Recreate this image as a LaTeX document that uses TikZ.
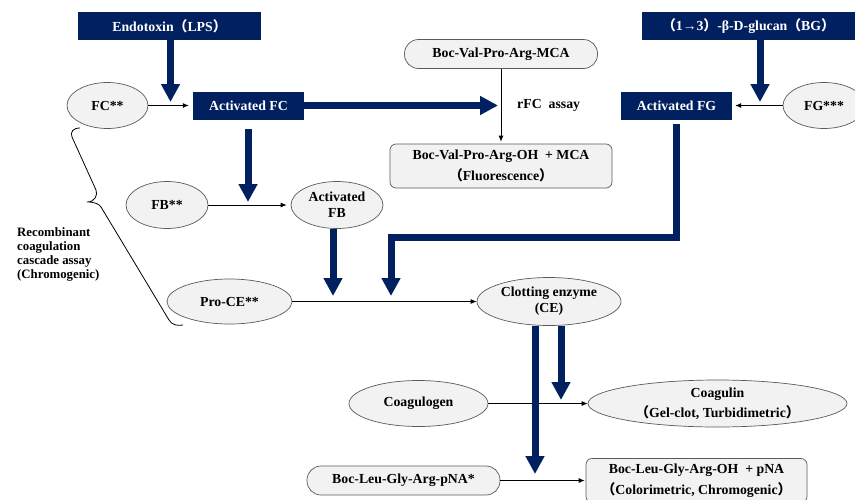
\documentclass[tikz,border=0pt]{standalone}
\usepackage{fontspec}
\setmainfont{Liberation Serif}
\newfontfamily\cjk{Noto Sans CJK SC}
\usetikzlibrary{shapes.geometric,arrows.meta}
\definecolor{navy}{RGB}{0,32,96}
\definecolor{nodeFill}{RGB}{242,242,242}
\definecolor{nodeDraw}{RGB}{90,90,90}
\newcommand{\fwl}{{\cjk （}}
\newcommand{\fwr}{{\cjk ）}}
\begin{document}
\begin{tikzpicture}
[x=1pt,y=-1pt,
  font=\fontsize{13.8}{16}\selectfont\bfseries,
  boxDecorate/.style={shape=rectangle,fill=navy,text=white,inner sep=0pt,minimum height=28pt},
  ellipseDecorate/.style={shape=ellipse,draw=nodeDraw,line width=0.7pt,fill=nodeFill,inner sep=0pt,align=center},
  pillDecorate/.style={shape=rectangle,draw=nodeDraw,line width=0.7pt,fill=nodeFill,inner sep=0pt,align=center,rounded corners=#1},
  pillDecorate/.default=14pt,
  lineDecorate/.style={-{Latex[length=6pt,width=5pt]},line width=0.8pt},
  thickDecorate/.style={-{Triangle[length=18pt,width=18pt]},line width=7pt,navy}]
\useasboundingbox (0,0) rectangle (855,499);
\clip (0,0) rectangle (855,499);
%% dark boxes
\foreach \nodename/\x/\y/\w/\txt in {
  lps/169.5/26/183/{Endotoxin\fwl LPS\fwr},
  bg/748.5/26/213/{\fwl 1→3\fwr-β-D-glucan\fwl BG\fwr},
  actFC/248.5/105.5/111/{Activated FC},
  actFG/676.5/105.5/111/{Activated FG}}
{
  \node (\nodename) at (\x,\y) [boxDecorate,minimum width=\w pt] {\txt};
}
%% ellipses
\foreach \nodename/\x/\y/\w/\h/\txt in {
  fc/107.5/105.5/81/46/{FC**},
  fb/167/205/82/47/{FB**},
  actFB/337/205/92/47/{Activated\\FB},
  fg/824/105.5/82/46/{FG***},
  proCE/229.5/301.5/125/45/{Pro-CE**},
  ce/549/301.5/144/48/{Clotting enzyme\\(CE)},
  coagulogen/418.5/403.5/139/46/{Coagulogen},
  coagulin/717.5/403.5/259/47/{Coagulin\\[4pt]\fwl Gel-clot, Turbidimetric\fwr}}
{
  \node (\nodename) at (\x,\y) [ellipseDecorate,minimum width=\w pt,minimum height=\h pt] {\txt};
}
%% substrates
\foreach \nodename/\x/\y/\w/\h/\r/\txt in {
  mca/501/54/193/29/14/{Boc-Val-Pro-Arg-MCA},
  mcaOut/501/166/222/44/6/{Boc-Val-Pro-Arg-OH~ + MCA\\[5pt]\fwl Fluorescence\fwr},
  pna/403.5/480.5/193/29/14/{Boc-Leu-Gly-Arg-pNA*},
  pnaOut/696.5/480.5/221/44/6/{Boc-Leu-Gly-Arg-OH~ + pNA\\[5pt]\fwl Colorimetric, Chromogenic\fwr}}
{
  \node (\nodename) at (\x,\y) [pillDecorate=\r pt,minimum width=\w pt,minimum height=\h pt] {\txt};
}
\node (rfc) at (517,105) [anchor=west,inner sep=0pt] {rFC\ \ assay};
\node (cascade) at (17,227) [anchor=north west,align=left,inner sep=0pt,
  font=\fontsize{12.8}{14.3}\selectfont\bfseries] {Recombinant\\coagulation\\cascade assay\\(Chromogenic)};
%% brace
\draw[line width=0.8pt] (80,128) .. controls (73,128) and (70,132) .. (72,137) -- (96,190)
  .. controls (98,195) and (95,202) .. (87,202) .. controls (95,202) and (99,204) .. (101,207)
  -- (169,320) .. controls (172,325) and (177,326) .. (183,325);
%% thin edges
\path
\foreach \startnode/\endnode/\gap in {
  fc/actFC/4, fb/actFB/4, fg/actFG/3, proCE/ce/0,
  coagulogen/coagulin/0, pna/pnaOut/1, mca/mcaOut/2}
{
  (\startnode) edge[lineDecorate,shorten >=\gap pt] (\endnode)
};
%% thick arrows
\coordinate (lpsTip) at (170.5,102);
\coordinate (bgTip) at (760,102);
\coordinate (rfcTip) at (498,105.5);
\coordinate (fbTip) at (248,202);
\coordinate (proTipA) at (333,296);
\coordinate (fgBend) at (391,237.5);
\coordinate (proTipB) at (391,296);
\coordinate (coagTip) at (561,400);
\coordinate (pnaTip) at (535,474);
\draw[thickDecorate] (lpsTip |- lps.south) -- (lpsTip);
\draw[thickDecorate] (bgTip |- bg.south) -- (bgTip);
\draw[thickDecorate] (actFC.east) -- (rfcTip);
\draw[thickDecorate] ([yshift=-9pt]fbTip |- actFC.south) -- (fbTip);
\draw[thickDecorate] (proTipA |- actFB.south) -- (proTipA);
\draw[thickDecorate] ([yshift=-4pt]actFG.south) |- (fgBend) -- (proTipB);
\draw[thickDecorate] (coagTip |- ce.south) -- (coagTip);
\draw[thickDecorate] (pnaTip |- ce.south) -- (pnaTip);
\end{tikzpicture}
\end{document}
